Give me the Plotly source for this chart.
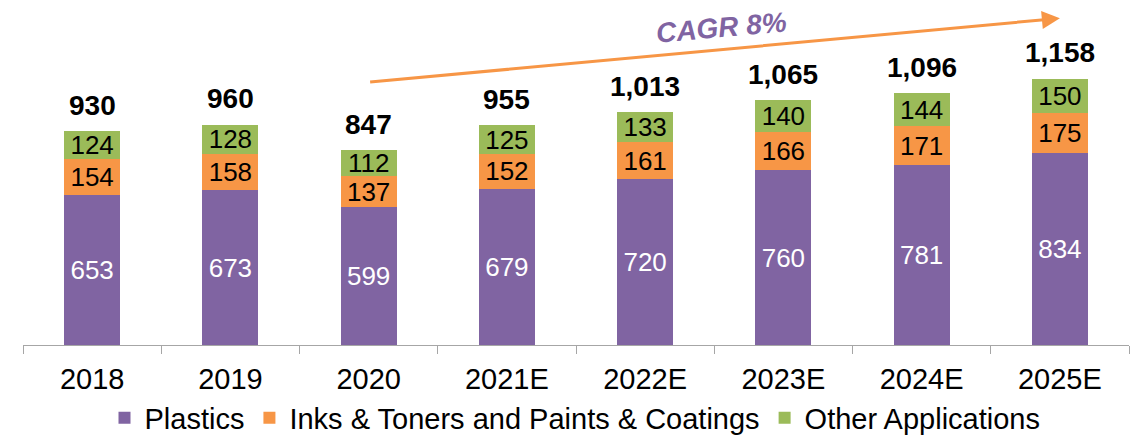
import plotly.graph_objects as go

categories = ["2018", "2019", "2020", "2021E", "2022E", "2023E", "2024E", "2025E"]
plastics = [653, 673, 599, 679, 720, 760, 781, 834]
inks_paints = [154, 158, 137, 152, 161, 166, 171, 175]
other_apps = [124, 128, 112, 125, 133, 140, 144, 150]
totals = [930, 960, 847, 955, 1013, 1065, 1096, 1158]
cagr_text = "CAGR 8%"

PURPLE = "#8064A2"
ORANGE = "#F79646"
GREEN = "#9BBB59"
FONT = "Liberation Sans, Arial, sans-serif"

fig = go.Figure()
series = [
    ("Plastics", plastics, PURPLE, "white"),
    ("Inks & Toners and Paints & Coatings", inks_paints, ORANGE, "black"),
    ("Other Applications", other_apps, GREEN, "black"),
]
for name, vals, color, tcolor in series:
    fig.add_trace(go.Bar(
        x=categories, y=vals, name=name,
        marker=dict(color=color, line=dict(width=0)),
        text=[str(v) for v in vals], textposition="inside",
        insidetextanchor="middle", constraintext="none",
        textfont=dict(family=FONT, size=26, color=tcolor),
        width=0.405,
    ))

for i, t in enumerate(totals):
    fig.add_annotation(
        x=i, y=t, xref="x", yref="y", text=f"<b>{t:,}</b>", showarrow=False,
        yanchor="middle", yshift=26,
        font=dict(family=FONT, size=28, color="black"),
    )

# CAGR arrow
fig.add_annotation(
    x=7, y=1421, ax=2, ay=1143, xref="x", yref="y", axref="x", ayref="y",
    showarrow=True, arrowhead=2, arrowsize=1.2, arrowwidth=3, arrowcolor=ORANGE,
    text="",
)
fig.add_annotation(
    x=4.55, y=1380, xref="x", yref="y", text=f"<b><i>{cagr_text}</i></b>",
    showarrow=False, textangle=-5,
    font=dict(family=FONT, size=28, color=PURPLE),
)

# page body has an 8px margin; figure sized/offset to compensate
fig.update_layout(
    barmode="stack",
    width=1134, height=428,
    margin=dict(l=15, r=13, t=2, b=91, autoexpand=False),
    paper_bgcolor="white", plot_bgcolor="white",
    showlegend=True,
    legend=dict(
        orientation="h", x=0.5, xanchor="center", xref="container",
        y=18 / 428, yanchor="middle", yref="container",
        font=dict(family=FONT, size=29, color="black"),
        itemwidth=30, traceorder="normal",
    ),
    xaxis=dict(
        type="category", tickson="boundaries", ticks="outside", ticklen=8,
        tickcolor="#A6A6A6", showline=True, linecolor="#A6A6A6", linewidth=1,
        showgrid=False, tickfont=dict(family=FONT, size=29, color="black"),
        range=[-0.5, 7.5], automargin=False, ticklabelstandoff=8,
    ),
    yaxis=dict(visible=False, range=[0, 1457]),
    font=dict(family=FONT),
)

fig.write_html("out.html")
